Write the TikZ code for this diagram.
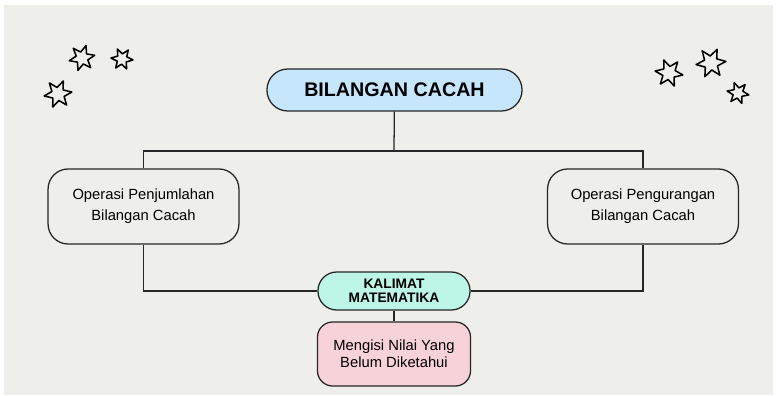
\documentclass[tikz,border=0pt]{standalone}
\usepackage{fontspec}
\setmainfont{Liberation Sans}
\usetikzlibrary{positioning}
\definecolor{bgpaper}{HTML}{EEEEEA}
\definecolor{capblue}{HTML}{C6E6FC}
\definecolor{capmint}{HTML}{BDF5E7}
\definecolor{cappink}{HTML}{F8D2D9}
\tikzset{
  box/.style={draw=black!85, line width=0.9pt, align=center, inner sep=0pt},
  topbox/.style={box, fill=capblue, rounded corners=0.52cm, minimum width=6.375cm, minimum height=1.05cm, font=\fontsize{14}{16}\selectfont\bfseries},
  opbox/.style={box, fill=bgpaper, rounded corners=0.5cm, minimum width=4.77cm, minimum height=1.875cm, font=\fontsize{10.5}{15}\selectfont},
  kalbox/.style={box, fill=capmint, rounded corners=0.47cm, minimum width=3.8cm, minimum height=0.95cm, font=\fontsize{9.8}{10}\selectfont\bfseries},
  isibox/.style={box, fill=cappink, rounded corners=0.38cm, minimum width=3.825cm, minimum height=1.6cm, font=\fontsize{10.5}{12}\selectfont},
  link/.style={draw=black!85, line width=0.9pt},
  sparkle/.pic={\draw[line width=1.1pt, line join=round] (0:1) \foreach \a in {0,60,...,300}{-- (\a+30:.47) -- (\a+60:1)} -- cycle;}
}
\begin{document}
\begin{tikzpicture}[x=0.025cm, y=-0.025cm]
	\useasboundingbox (0,0) rectangle (776,395);
	\fill[white] (0,0) rectangle (776,395);
	\fill[bgpaper] (4,5) rectangle (773,395);
	\pic[scale=13, rotate=12] at (82,58) {sparkle};
	\pic[scale=11, rotate=-5] at (122,59) {sparkle};
	\pic[scale=14, rotate=8] at (58,94) {sparkle};
	\pic[scale=14, rotate=-8] at (669,73) {sparkle};
	\pic[scale=15, rotate=6] at (711,63) {sparkle};
	\pic[scale=11, rotate=-10] at (738,93) {sparkle};
	\node[topbox] (cacah) at (394.5,90) {BILANGAN CACAH};
	\node[opbox] (tambah) at (143.5,206.5) {Operasi Penjumlahan\\Bilangan Cacah};
	\node[opbox] (kurang) at (643,206.5) {Operasi Pengurangan\\Bilangan Cacah};
	\node[kalbox] (kalimat) at (394,291) {KALIMAT\\MATEMATIKA};
	\node[isibox] (isi) at (394,354) {Mengisi Nilai Yang\\Belum Diketahui};
	\coordinate (bus) at (394,151);
	\draw[link] (cacah) -- (bus);
	\draw[link] (tambah.north) |- (bus) -| (kurang.north);
	\draw[link] (tambah.south) |- (kalimat.west);
	\draw[link] (kurang.south) |- (kalimat.east);
	\draw[link] (kalimat) -- (isi);
\end{tikzpicture}
\end{document}
